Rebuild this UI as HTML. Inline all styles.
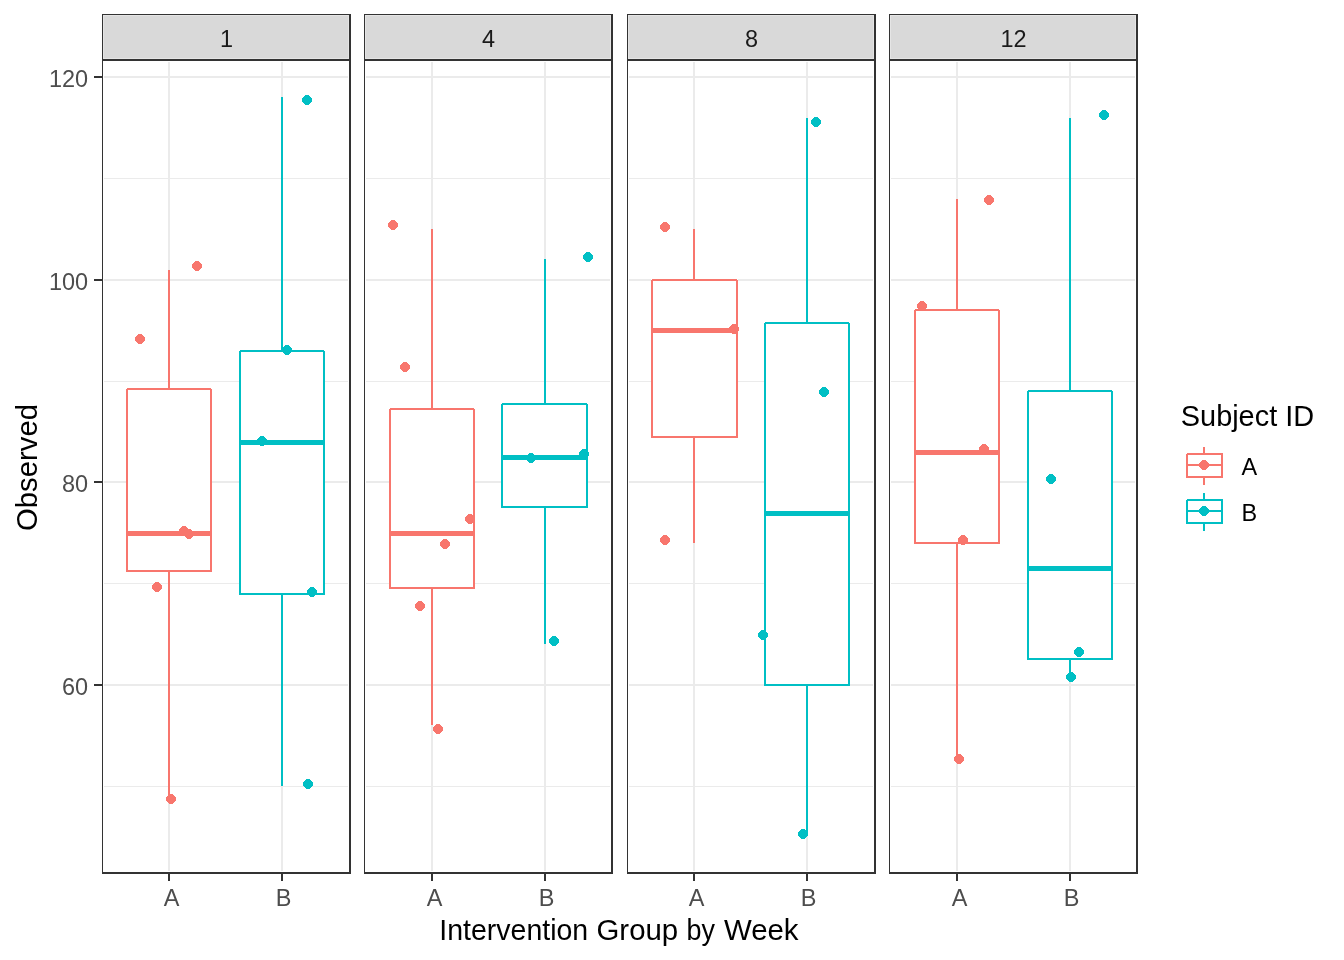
<!DOCTYPE html>
<html lang="en"><head><meta charset="utf-8"><title>Observed by Intervention Group by Week</title>
<style>html,body{margin:0;padding:0;background:#fff;}svg{display:block;}text{font-family:"Liberation Sans",Arial,sans-serif;}</style></head><body>
<svg width="1344" height="960" viewBox="0 0 1344 960">
<rect x="0" y="0" width="1344" height="960" fill="#ffffff"/>
<g shape-rendering="crispEdges">
<line x1="104" x2="348" y1="178.5" y2="178.5" stroke="#EBEBEB" stroke-width="1"/>
<line x1="104" x2="348" y1="381.5" y2="381.5" stroke="#EBEBEB" stroke-width="1"/>
<line x1="104" x2="348" y1="583.5" y2="583.5" stroke="#EBEBEB" stroke-width="1"/>
<line x1="104" x2="348" y1="786.5" y2="786.5" stroke="#EBEBEB" stroke-width="1"/>
<line x1="104" x2="348" y1="77" y2="77" stroke="#EBEBEB" stroke-width="2"/>
<line x1="104" x2="348" y1="280" y2="280" stroke="#EBEBEB" stroke-width="2"/>
<line x1="104" x2="348" y1="482" y2="482" stroke="#EBEBEB" stroke-width="2"/>
<line x1="104" x2="348" y1="685" y2="685" stroke="#EBEBEB" stroke-width="2"/>
<line x1="169" x2="169" y1="62" y2="871" stroke="#EBEBEB" stroke-width="2"/>
<line x1="282" x2="282" y1="62" y2="871" stroke="#EBEBEB" stroke-width="2"/>
<line x1="169" x2="169" y1="270" y2="389" stroke="#F8766D" stroke-width="2"/>
<line x1="169" x2="169" y1="571" y2="799" stroke="#F8766D" stroke-width="2"/>
<rect x="127" y="389" width="84" height="182" fill="#ffffff" stroke="#F8766D" stroke-width="2"/>
<line x1="127" x2="211" y1="533.5" y2="533.5" stroke="#F8766D" stroke-width="5"/>
<rect x="126" y="388" width="1" height="1" fill="#ffffff"/><rect x="211" y="388" width="1" height="1" fill="#ffffff"/>
<line x1="282" x2="282" y1="97" y2="351" stroke="#00BFC4" stroke-width="2"/>
<line x1="282" x2="282" y1="594" y2="786" stroke="#00BFC4" stroke-width="2"/>
<rect x="240" y="351" width="84" height="243" fill="#ffffff" stroke="#00BFC4" stroke-width="2"/>
<line x1="240" x2="324" y1="442.5" y2="442.5" stroke="#00BFC4" stroke-width="5"/>
<rect x="239" y="350" width="1" height="1" fill="#ffffff"/><rect x="324" y="350" width="1" height="1" fill="#ffffff"/>
</g>
<path d="M195 261h4v1h1v1h1v1h1v4h-1v1h-1v1h-1v1h-4v-1h-1v-1h-1v-1h-1v-4h1v-1h1v-1h1z" fill="#F8766D" shape-rendering="crispEdges"/>
<path d="M138 334h4v1h1v1h1v1h1v4h-1v1h-1v1h-1v1h-4v-1h-1v-1h-1v-1h-1v-4h1v-1h1v-1h1z" fill="#F8766D" shape-rendering="crispEdges"/>
<path d="M182 526h4v1h1v1h1v1h1v4h-1v1h-1v1h-1v1h-4v-1h-1v-1h-1v-1h-1v-4h1v-1h1v-1h1z" fill="#F8766D" shape-rendering="crispEdges"/>
<path d="M187 529h4v1h1v1h1v1h1v4h-1v1h-1v1h-1v1h-4v-1h-1v-1h-1v-1h-1v-4h1v-1h1v-1h1z" fill="#F8766D" shape-rendering="crispEdges"/>
<path d="M155 582h4v1h1v1h1v1h1v4h-1v1h-1v1h-1v1h-4v-1h-1v-1h-1v-1h-1v-4h1v-1h1v-1h1z" fill="#F8766D" shape-rendering="crispEdges"/>
<path d="M169 794h4v1h1v1h1v1h1v4h-1v1h-1v1h-1v1h-4v-1h-1v-1h-1v-1h-1v-4h1v-1h1v-1h1z" fill="#F8766D" shape-rendering="crispEdges"/>
<path d="M305 95h4v1h1v1h1v1h1v4h-1v1h-1v1h-1v1h-4v-1h-1v-1h-1v-1h-1v-4h1v-1h1v-1h1z" fill="#00BFC4" shape-rendering="crispEdges"/>
<path d="M285 345h4v1h1v1h1v1h1v4h-1v1h-1v1h-1v1h-4v-1h-1v-1h-1v-1h-1v-4h1v-1h1v-1h1z" fill="#00BFC4" shape-rendering="crispEdges"/>
<path d="M260 436h4v1h1v1h1v1h1v4h-1v1h-1v1h-1v1h-4v-1h-1v-1h-1v-1h-1v-4h1v-1h1v-1h1z" fill="#00BFC4" shape-rendering="crispEdges"/>
<path d="M310 587h4v1h1v1h1v1h1v4h-1v1h-1v1h-1v1h-4v-1h-1v-1h-1v-1h-1v-4h1v-1h1v-1h1z" fill="#00BFC4" shape-rendering="crispEdges"/>
<path d="M306 779h4v1h1v1h1v1h1v4h-1v1h-1v1h-1v1h-4v-1h-1v-1h-1v-1h-1v-4h1v-1h1v-1h1z" fill="#00BFC4" shape-rendering="crispEdges"/>
<g shape-rendering="crispEdges">
<rect x="102" y="14" width="249" height="46" fill="#D9D9D9"/>
<rect x="103.5" y="15.5" width="245" height="43" fill="none" stroke="#E5E5E5" stroke-width="1"/>
<rect x="102" y="14" width="248" height="1" fill="#333333"/>
<rect x="102" y="14" width="1" height="860" fill="#333333"/>
<rect x="349" y="14" width="2" height="860" fill="#333333"/>
<rect x="102" y="59" width="249" height="2" fill="#333333"/>
<rect x="102" y="872" width="249" height="2" fill="#333333"/>
<rect x="168" y="874" width="2" height="7" fill="#333333"/>
<rect x="281" y="874" width="2" height="7" fill="#333333"/>
</g>
<text x="226.5" y="47" font-size="23.47" fill="#1A1A1A" text-anchor="middle">1</text>
<text x="171.5" y="905.8" font-size="23.47" fill="#4D4D4D" text-anchor="middle">A</text>
<text x="283.6" y="905.8" font-size="23.47" fill="#4D4D4D" text-anchor="middle">B</text>
<g shape-rendering="crispEdges">
<line x1="366" x2="610" y1="178.5" y2="178.5" stroke="#EBEBEB" stroke-width="1"/>
<line x1="366" x2="610" y1="381.5" y2="381.5" stroke="#EBEBEB" stroke-width="1"/>
<line x1="366" x2="610" y1="583.5" y2="583.5" stroke="#EBEBEB" stroke-width="1"/>
<line x1="366" x2="610" y1="786.5" y2="786.5" stroke="#EBEBEB" stroke-width="1"/>
<line x1="366" x2="610" y1="77" y2="77" stroke="#EBEBEB" stroke-width="2"/>
<line x1="366" x2="610" y1="280" y2="280" stroke="#EBEBEB" stroke-width="2"/>
<line x1="366" x2="610" y1="482" y2="482" stroke="#EBEBEB" stroke-width="2"/>
<line x1="366" x2="610" y1="685" y2="685" stroke="#EBEBEB" stroke-width="2"/>
<line x1="432" x2="432" y1="62" y2="871" stroke="#EBEBEB" stroke-width="2"/>
<line x1="545" x2="545" y1="62" y2="871" stroke="#EBEBEB" stroke-width="2"/>
<line x1="432" x2="432" y1="229" y2="409" stroke="#F8766D" stroke-width="2"/>
<line x1="432" x2="432" y1="588" y2="725" stroke="#F8766D" stroke-width="2"/>
<rect x="390" y="409" width="84" height="179" fill="#ffffff" stroke="#F8766D" stroke-width="2"/>
<line x1="390" x2="474" y1="533.5" y2="533.5" stroke="#F8766D" stroke-width="5"/>
<rect x="389" y="408" width="1" height="1" fill="#ffffff"/><rect x="474" y="408" width="1" height="1" fill="#ffffff"/>
<line x1="545" x2="545" y1="259" y2="404" stroke="#00BFC4" stroke-width="2"/>
<line x1="545" x2="545" y1="507" y2="644" stroke="#00BFC4" stroke-width="2"/>
<rect x="502" y="404" width="85" height="103" fill="#ffffff" stroke="#00BFC4" stroke-width="2"/>
<line x1="502" x2="587" y1="457.5" y2="457.5" stroke="#00BFC4" stroke-width="5"/>
<rect x="501" y="403" width="1" height="1" fill="#ffffff"/><rect x="587" y="403" width="1" height="1" fill="#ffffff"/>
</g>
<path d="M391 220h4v1h1v1h1v1h1v4h-1v1h-1v1h-1v1h-4v-1h-1v-1h-1v-1h-1v-4h1v-1h1v-1h1z" fill="#F8766D" shape-rendering="crispEdges"/>
<path d="M403 362h4v1h1v1h1v1h1v4h-1v1h-1v1h-1v1h-4v-1h-1v-1h-1v-1h-1v-4h1v-1h1v-1h1z" fill="#F8766D" shape-rendering="crispEdges"/>
<path d="M468 514h4v1h1v1h1v1h1v4h-1v1h-1v1h-1v1h-4v-1h-1v-1h-1v-1h-1v-4h1v-1h1v-1h1z" fill="#F8766D" shape-rendering="crispEdges"/>
<path d="M443 539h4v1h1v1h1v1h1v4h-1v1h-1v1h-1v1h-4v-1h-1v-1h-1v-1h-1v-4h1v-1h1v-1h1z" fill="#F8766D" shape-rendering="crispEdges"/>
<path d="M418 601h4v1h1v1h1v1h1v4h-1v1h-1v1h-1v1h-4v-1h-1v-1h-1v-1h-1v-4h1v-1h1v-1h1z" fill="#F8766D" shape-rendering="crispEdges"/>
<path d="M436 724h4v1h1v1h1v1h1v4h-1v1h-1v1h-1v1h-4v-1h-1v-1h-1v-1h-1v-4h1v-1h1v-1h1z" fill="#F8766D" shape-rendering="crispEdges"/>
<path d="M586 252h4v1h1v1h1v1h1v4h-1v1h-1v1h-1v1h-4v-1h-1v-1h-1v-1h-1v-4h1v-1h1v-1h1z" fill="#00BFC4" shape-rendering="crispEdges"/>
<path d="M529 453h4v1h1v1h1v1h1v4h-1v1h-1v1h-1v1h-4v-1h-1v-1h-1v-1h-1v-4h1v-1h1v-1h1z" fill="#00BFC4" shape-rendering="crispEdges"/>
<path d="M582 449h4v1h1v1h1v1h1v4h-1v1h-1v1h-1v1h-4v-1h-1v-1h-1v-1h-1v-4h1v-1h1v-1h1z" fill="#00BFC4" shape-rendering="crispEdges"/>
<path d="M552 636h4v1h1v1h1v1h1v4h-1v1h-1v1h-1v1h-4v-1h-1v-1h-1v-1h-1v-4h1v-1h1v-1h1z" fill="#00BFC4" shape-rendering="crispEdges"/>
<g shape-rendering="crispEdges">
<rect x="364" y="14" width="249" height="46" fill="#D9D9D9"/>
<rect x="365.5" y="15.5" width="245" height="43" fill="none" stroke="#E5E5E5" stroke-width="1"/>
<rect x="364" y="14" width="248" height="1" fill="#333333"/>
<rect x="364" y="14" width="1" height="860" fill="#333333"/>
<rect x="611" y="14" width="2" height="860" fill="#333333"/>
<rect x="364" y="59" width="249" height="2" fill="#333333"/>
<rect x="364" y="872" width="249" height="2" fill="#333333"/>
<rect x="431" y="874" width="2" height="7" fill="#333333"/>
<rect x="544" y="874" width="2" height="7" fill="#333333"/>
</g>
<text x="488.5" y="47" font-size="23.47" fill="#1A1A1A" text-anchor="middle">4</text>
<text x="434.5" y="905.8" font-size="23.47" fill="#4D4D4D" text-anchor="middle">A</text>
<text x="546.6" y="905.8" font-size="23.47" fill="#4D4D4D" text-anchor="middle">B</text>
<g shape-rendering="crispEdges">
<line x1="629" x2="873" y1="178.5" y2="178.5" stroke="#EBEBEB" stroke-width="1"/>
<line x1="629" x2="873" y1="381.5" y2="381.5" stroke="#EBEBEB" stroke-width="1"/>
<line x1="629" x2="873" y1="583.5" y2="583.5" stroke="#EBEBEB" stroke-width="1"/>
<line x1="629" x2="873" y1="786.5" y2="786.5" stroke="#EBEBEB" stroke-width="1"/>
<line x1="629" x2="873" y1="77" y2="77" stroke="#EBEBEB" stroke-width="2"/>
<line x1="629" x2="873" y1="280" y2="280" stroke="#EBEBEB" stroke-width="2"/>
<line x1="629" x2="873" y1="482" y2="482" stroke="#EBEBEB" stroke-width="2"/>
<line x1="629" x2="873" y1="685" y2="685" stroke="#EBEBEB" stroke-width="2"/>
<line x1="694" x2="694" y1="62" y2="871" stroke="#EBEBEB" stroke-width="2"/>
<line x1="807" x2="807" y1="62" y2="871" stroke="#EBEBEB" stroke-width="2"/>
<line x1="694" x2="694" y1="229" y2="280" stroke="#F8766D" stroke-width="2"/>
<line x1="694" x2="694" y1="437" y2="543" stroke="#F8766D" stroke-width="2"/>
<rect x="652" y="280" width="85" height="157" fill="#ffffff" stroke="#F8766D" stroke-width="2"/>
<line x1="652" x2="737" y1="330.5" y2="330.5" stroke="#F8766D" stroke-width="5"/>
<rect x="651" y="279" width="1" height="1" fill="#ffffff"/><rect x="737" y="279" width="1" height="1" fill="#ffffff"/>
<line x1="807" x2="807" y1="118" y2="323" stroke="#00BFC4" stroke-width="2"/>
<line x1="807" x2="807" y1="685" y2="836" stroke="#00BFC4" stroke-width="2"/>
<rect x="765" y="323" width="84" height="362" fill="#ffffff" stroke="#00BFC4" stroke-width="2"/>
<line x1="765" x2="849" y1="513.5" y2="513.5" stroke="#00BFC4" stroke-width="5"/>
<rect x="764" y="322" width="1" height="1" fill="#ffffff"/><rect x="849" y="322" width="1" height="1" fill="#ffffff"/>
</g>
<path d="M663 222h4v1h1v1h1v1h1v4h-1v1h-1v1h-1v1h-4v-1h-1v-1h-1v-1h-1v-4h1v-1h1v-1h1z" fill="#F8766D" shape-rendering="crispEdges"/>
<path d="M732 324h4v1h1v1h1v1h1v4h-1v1h-1v1h-1v1h-4v-1h-1v-1h-1v-1h-1v-4h1v-1h1v-1h1z" fill="#F8766D" shape-rendering="crispEdges"/>
<path d="M663 535h4v1h1v1h1v1h1v4h-1v1h-1v1h-1v1h-4v-1h-1v-1h-1v-1h-1v-4h1v-1h1v-1h1z" fill="#F8766D" shape-rendering="crispEdges"/>
<path d="M814 117h4v1h1v1h1v1h1v4h-1v1h-1v1h-1v1h-4v-1h-1v-1h-1v-1h-1v-4h1v-1h1v-1h1z" fill="#00BFC4" shape-rendering="crispEdges"/>
<path d="M822 387h4v1h1v1h1v1h1v4h-1v1h-1v1h-1v1h-4v-1h-1v-1h-1v-1h-1v-4h1v-1h1v-1h1z" fill="#00BFC4" shape-rendering="crispEdges"/>
<path d="M761 630h4v1h1v1h1v1h1v4h-1v1h-1v1h-1v1h-4v-1h-1v-1h-1v-1h-1v-4h1v-1h1v-1h1z" fill="#00BFC4" shape-rendering="crispEdges"/>
<path d="M801 829h4v1h1v1h1v1h1v4h-1v1h-1v1h-1v1h-4v-1h-1v-1h-1v-1h-1v-4h1v-1h1v-1h1z" fill="#00BFC4" shape-rendering="crispEdges"/>
<g shape-rendering="crispEdges">
<rect x="627" y="14" width="249" height="46" fill="#D9D9D9"/>
<rect x="628.5" y="15.5" width="245" height="43" fill="none" stroke="#E5E5E5" stroke-width="1"/>
<rect x="627" y="14" width="248" height="1" fill="#333333"/>
<rect x="627" y="14" width="1" height="860" fill="#333333"/>
<rect x="874" y="14" width="2" height="860" fill="#333333"/>
<rect x="627" y="59" width="249" height="2" fill="#333333"/>
<rect x="627" y="872" width="249" height="2" fill="#333333"/>
<rect x="693" y="874" width="2" height="7" fill="#333333"/>
<rect x="806" y="874" width="2" height="7" fill="#333333"/>
</g>
<text x="751.5" y="47" font-size="23.47" fill="#1A1A1A" text-anchor="middle">8</text>
<text x="696.5" y="905.8" font-size="23.47" fill="#4D4D4D" text-anchor="middle">A</text>
<text x="808.6" y="905.8" font-size="23.47" fill="#4D4D4D" text-anchor="middle">B</text>
<g shape-rendering="crispEdges">
<line x1="891" x2="1135" y1="178.5" y2="178.5" stroke="#EBEBEB" stroke-width="1"/>
<line x1="891" x2="1135" y1="381.5" y2="381.5" stroke="#EBEBEB" stroke-width="1"/>
<line x1="891" x2="1135" y1="583.5" y2="583.5" stroke="#EBEBEB" stroke-width="1"/>
<line x1="891" x2="1135" y1="786.5" y2="786.5" stroke="#EBEBEB" stroke-width="1"/>
<line x1="891" x2="1135" y1="77" y2="77" stroke="#EBEBEB" stroke-width="2"/>
<line x1="891" x2="1135" y1="280" y2="280" stroke="#EBEBEB" stroke-width="2"/>
<line x1="891" x2="1135" y1="482" y2="482" stroke="#EBEBEB" stroke-width="2"/>
<line x1="891" x2="1135" y1="685" y2="685" stroke="#EBEBEB" stroke-width="2"/>
<line x1="957" x2="957" y1="62" y2="871" stroke="#EBEBEB" stroke-width="2"/>
<line x1="1070" x2="1070" y1="62" y2="871" stroke="#EBEBEB" stroke-width="2"/>
<line x1="957" x2="957" y1="199" y2="310" stroke="#F8766D" stroke-width="2"/>
<line x1="957" x2="957" y1="543" y2="759" stroke="#F8766D" stroke-width="2"/>
<rect x="915" y="310" width="84" height="233" fill="#ffffff" stroke="#F8766D" stroke-width="2"/>
<line x1="915" x2="999" y1="452.5" y2="452.5" stroke="#F8766D" stroke-width="5"/>
<rect x="914" y="309" width="1" height="1" fill="#ffffff"/><rect x="999" y="309" width="1" height="1" fill="#ffffff"/>
<line x1="1070" x2="1070" y1="118" y2="391" stroke="#00BFC4" stroke-width="2"/>
<line x1="1070" x2="1070" y1="659" y2="677" stroke="#00BFC4" stroke-width="2"/>
<rect x="1028" y="391" width="84" height="268" fill="#ffffff" stroke="#00BFC4" stroke-width="2"/>
<line x1="1028" x2="1112" y1="568.5" y2="568.5" stroke="#00BFC4" stroke-width="5"/>
<rect x="1027" y="390" width="1" height="1" fill="#ffffff"/><rect x="1112" y="390" width="1" height="1" fill="#ffffff"/>
</g>
<path d="M987 195h4v1h1v1h1v1h1v4h-1v1h-1v1h-1v1h-4v-1h-1v-1h-1v-1h-1v-4h1v-1h1v-1h1z" fill="#F8766D" shape-rendering="crispEdges"/>
<path d="M920 301h4v1h1v1h1v1h1v4h-1v1h-1v1h-1v1h-4v-1h-1v-1h-1v-1h-1v-4h1v-1h1v-1h1z" fill="#F8766D" shape-rendering="crispEdges"/>
<path d="M982 444h4v1h1v1h1v1h1v4h-1v1h-1v1h-1v1h-4v-1h-1v-1h-1v-1h-1v-4h1v-1h1v-1h1z" fill="#F8766D" shape-rendering="crispEdges"/>
<path d="M961 535h4v1h1v1h1v1h1v4h-1v1h-1v1h-1v1h-4v-1h-1v-1h-1v-1h-1v-4h1v-1h1v-1h1z" fill="#F8766D" shape-rendering="crispEdges"/>
<path d="M957 754h4v1h1v1h1v1h1v4h-1v1h-1v1h-1v1h-4v-1h-1v-1h-1v-1h-1v-4h1v-1h1v-1h1z" fill="#F8766D" shape-rendering="crispEdges"/>
<path d="M1102 110h4v1h1v1h1v1h1v4h-1v1h-1v1h-1v1h-4v-1h-1v-1h-1v-1h-1v-4h1v-1h1v-1h1z" fill="#00BFC4" shape-rendering="crispEdges"/>
<path d="M1049 474h4v1h1v1h1v1h1v4h-1v1h-1v1h-1v1h-4v-1h-1v-1h-1v-1h-1v-4h1v-1h1v-1h1z" fill="#00BFC4" shape-rendering="crispEdges"/>
<path d="M1077 647h4v1h1v1h1v1h1v4h-1v1h-1v1h-1v1h-4v-1h-1v-1h-1v-1h-1v-4h1v-1h1v-1h1z" fill="#00BFC4" shape-rendering="crispEdges"/>
<path d="M1069 672h4v1h1v1h1v1h1v4h-1v1h-1v1h-1v1h-4v-1h-1v-1h-1v-1h-1v-4h1v-1h1v-1h1z" fill="#00BFC4" shape-rendering="crispEdges"/>
<g shape-rendering="crispEdges">
<rect x="889" y="14" width="249" height="46" fill="#D9D9D9"/>
<rect x="890.5" y="15.5" width="245" height="43" fill="none" stroke="#E5E5E5" stroke-width="1"/>
<rect x="889" y="14" width="248" height="1" fill="#333333"/>
<rect x="889" y="14" width="1" height="860" fill="#333333"/>
<rect x="1136" y="14" width="2" height="860" fill="#333333"/>
<rect x="889" y="59" width="249" height="2" fill="#333333"/>
<rect x="889" y="872" width="249" height="2" fill="#333333"/>
<rect x="956" y="874" width="2" height="7" fill="#333333"/>
<rect x="1069" y="874" width="2" height="7" fill="#333333"/>
</g>
<text x="1013.5" y="47" font-size="23.47" fill="#1A1A1A" text-anchor="middle">12</text>
<text x="959.5" y="905.8" font-size="23.47" fill="#4D4D4D" text-anchor="middle">A</text>
<text x="1071.6" y="905.8" font-size="23.47" fill="#4D4D4D" text-anchor="middle">B</text>
<g shape-rendering="crispEdges">
<rect x="94" y="76" width="8" height="2" fill="#333333"/>
<rect x="94" y="279" width="8" height="2" fill="#333333"/>
<rect x="94" y="481" width="8" height="2" fill="#333333"/>
<rect x="94" y="684" width="8" height="2" fill="#333333"/>
</g>
<text x="88.1" y="86.7" font-size="23.47" fill="#4D4D4D" text-anchor="end">120</text>
<text x="88.1" y="289.7" font-size="23.47" fill="#4D4D4D" text-anchor="end">100</text>
<text x="88.1" y="491.7" font-size="23.47" fill="#4D4D4D" text-anchor="end">80</text>
<text x="88.1" y="694.7" font-size="23.47" fill="#4D4D4D" text-anchor="end">60</text>
<text y="940" font-size="29" fill="#000000"><tspan x="439.3" textLength="148.9" lengthAdjust="spacingAndGlyphs">Intervention</tspan> <tspan x="596.5" textLength="81.7" lengthAdjust="spacingAndGlyphs">Group</tspan> <tspan x="686.5" textLength="28.5" lengthAdjust="spacingAndGlyphs">by</tspan> <tspan x="723.9" textLength="74.7" lengthAdjust="spacingAndGlyphs">Week</tspan></text>
<text transform="translate(37,467.5) rotate(-90)" font-size="29.33" fill="#000000" text-anchor="middle">Observed</text>
<text x="1180.8" y="425.5" font-size="28.9" fill="#000000">Subject ID</text>
<g shape-rendering="crispEdges">
<line x1="1204" x2="1204" y1="447" y2="485" stroke="#F8766D" stroke-width="2"/>
<rect x="1187" y="454" width="35" height="23" fill="#ffffff" stroke="#F8766D" stroke-width="2"/>
<line x1="1187" x2="1222" y1="465" y2="465" stroke="#F8766D" stroke-width="2"/>
<rect x="1186" y="453" width="1" height="1" fill="#ffffff"/>
</g>
<path d="M1202 460h4v1h1v1h1v1h1v4h-1v1h-1v1h-1v1h-4v-1h-1v-1h-1v-1h-1v-4h1v-1h1v-1h1z" fill="#F8766D" shape-rendering="crispEdges"/>
<text x="1241.5" y="474.8" font-size="23.47" fill="#000000">A</text>
<g shape-rendering="crispEdges">
<line x1="1204" x2="1204" y1="493" y2="531" stroke="#00BFC4" stroke-width="2"/>
<rect x="1187" y="500" width="35" height="23" fill="#ffffff" stroke="#00BFC4" stroke-width="2"/>
<line x1="1187" x2="1222" y1="511" y2="511" stroke="#00BFC4" stroke-width="2"/>
<rect x="1186" y="499" width="1" height="1" fill="#ffffff"/>
</g>
<path d="M1202 506h4v1h1v1h1v1h1v4h-1v1h-1v1h-1v1h-4v-1h-1v-1h-1v-1h-1v-4h1v-1h1v-1h1z" fill="#00BFC4" shape-rendering="crispEdges"/>
<text x="1241.5" y="520.8" font-size="23.47" fill="#000000">B</text>
</svg></body></html>
